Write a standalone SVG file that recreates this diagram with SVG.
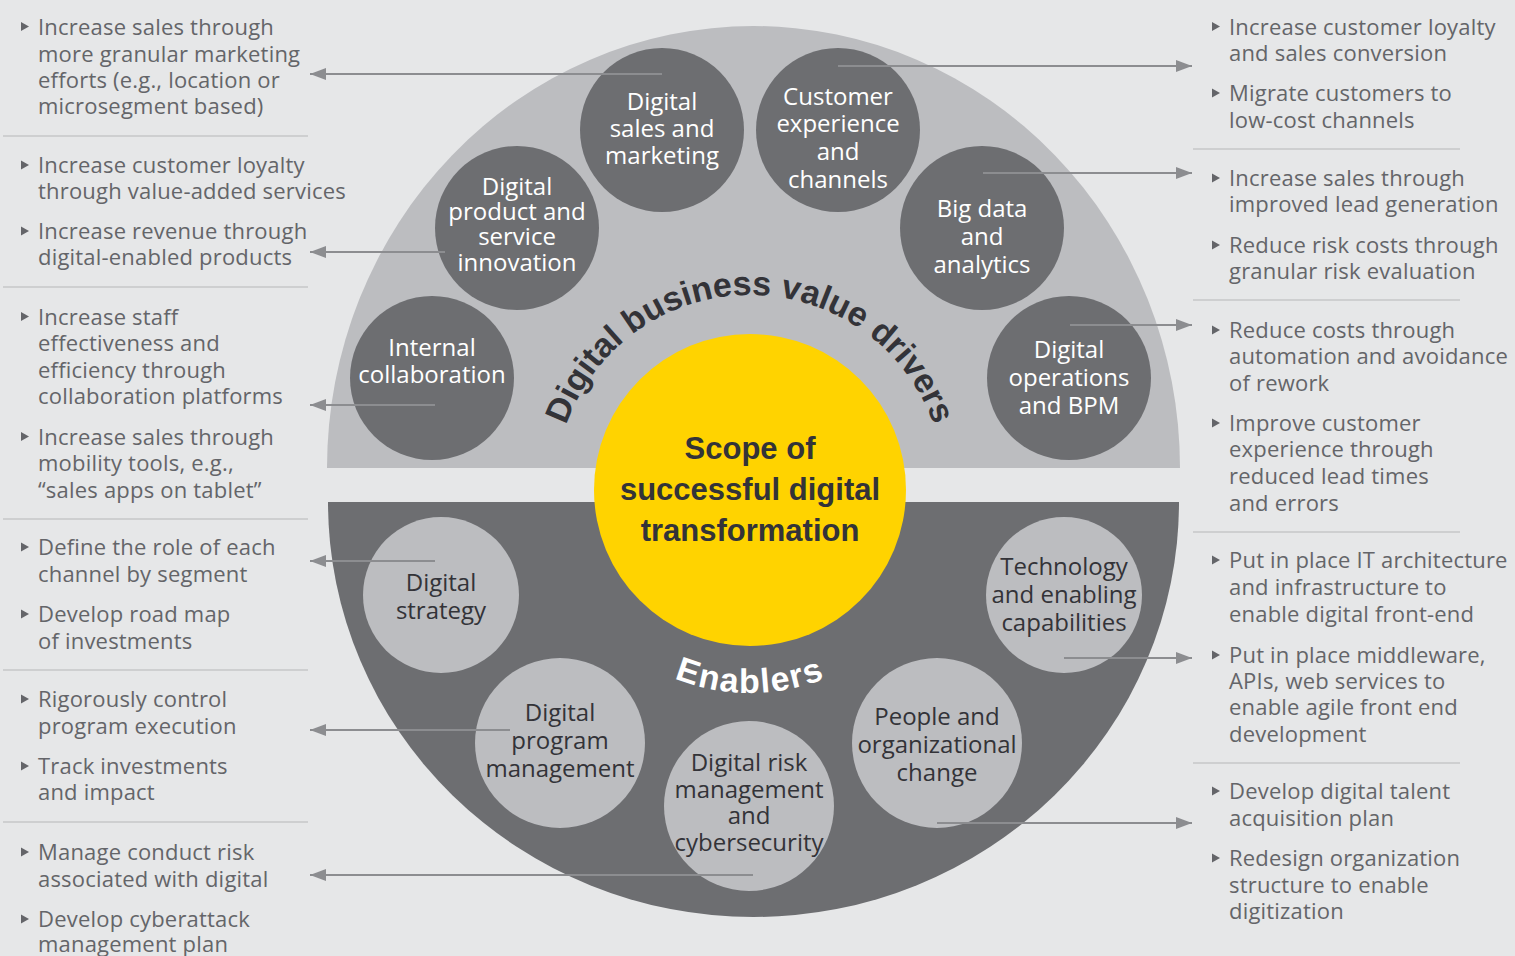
<svg xmlns="http://www.w3.org/2000/svg" xmlns:xlink="http://www.w3.org/1999/xlink" width="1515" height="956" viewBox="0 0 1515 956">
<style>
.side{font-family:"Open Sans","Liberation Sans",sans-serif;font-size:22px;fill:#646569;letter-spacing:0.2px}
.ct{font-family:"Open Sans","Liberation Sans",sans-serif;font-size:24px;text-anchor:middle}
.w{fill:#ffffff}
.d{fill:#333338}
.dk{fill:#6d6e71}
.lt{fill:#bcbdc0}
.sep{stroke:#c6c7c9;stroke-width:1.5}
.con{stroke:#8c8d90;stroke-width:2;fill:none}
.bul{fill:#646569}
.core{font-family:"Liberation Sans",Arial,sans-serif;font-weight:bold;font-size:31px;fill:#333338;text-anchor:middle}
.arc{font-family:"Liberation Sans",Arial,sans-serif;font-weight:bold;font-size:34px}
</style>
<defs>
<path id="bl" d="M0,-4.5 L8,0 L0,4.5Z"/>
<marker id="ah" markerWidth="16" markerHeight="12" refX="16" refY="6" orient="auto" markerUnits="userSpaceOnUse">
<path d="M0,0 L16,6 L0,12Z" fill="#8c8d90"/>
</marker>
<path id="arcTop" d="M555,490 A195,195 0 0 1 945,490"/>
<path id="arcBot" d="M547,490 A203,203 0 0 0 953,490"/>
</defs>
<rect width="1515" height="956" fill="#e6e7e8"/>

<g id="halves">
<path d="M327,468 A426.5,442 0 0 1 1180,468 Z" fill="#bcbdc0"/>
<path d="M328,502 L1179,502 A425.5,415 0 0 1 328,502 Z" fill="#6d6e71"/>
</g>

<g id="core">
<circle cx="750" cy="490" r="156" fill="#ffd300"/>
<text class="core" x="750" y="459">Scope of</text>
<text class="core" x="750" y="500">successful digital</text>
<text class="core" x="750" y="541">transformation</text>
</g>

<g id="label-drivers">
<text class="arc" fill="#333338"><textPath href="#arcTop" startOffset="50%" text-anchor="middle">Digital business value drivers</textPath></text>
</g>
<g id="label-enablers">
<text class="arc" fill="#ffffff" font-size="38" letter-spacing="1.5"><textPath href="#arcBot" startOffset="50%" text-anchor="middle">Enablers</textPath></text>
</g>

<g id="n-sales"><circle class="dk" cx="662" cy="130" r="82"/><text class="ct w"><tspan x="662" y="110">Digital</tspan><tspan x="662" y="137">sales and</tspan><tspan x="662" y="164">marketing</tspan></text></g>
<g id="n-cx"><circle class="dk" cx="838" cy="130" r="82"/><text class="ct w"><tspan x="838" y="105">Customer</tspan><tspan x="838" y="132">experience</tspan><tspan x="838" y="160">and</tspan><tspan x="838" y="188">channels</tspan></text></g>
<g id="n-product"><circle class="dk" cx="517" cy="228" r="82"/><text class="ct w"><tspan x="517" y="195">Digital</tspan><tspan x="517" y="220">product and</tspan><tspan x="517" y="245">service</tspan><tspan x="517" y="271">innovation</tspan></text></g>
<g id="n-bigdata"><circle class="dk" cx="982" cy="228" r="82"/><text class="ct w"><tspan x="982" y="217">Big data</tspan><tspan x="982" y="245">and</tspan><tspan x="982" y="273">analytics</tspan></text></g>
<g id="n-internal"><circle class="dk" cx="432" cy="378" r="82"/><text class="ct w"><tspan x="432" y="356">Internal</tspan><tspan x="432" y="383">collaboration</tspan></text></g>
<g id="n-ops"><circle class="dk" cx="1069" cy="378" r="82"/><text class="ct w"><tspan x="1069" y="358">Digital</tspan><tspan x="1069" y="386">operations</tspan><tspan x="1069" y="414">and BPM</tspan></text></g>

<g id="n-strategy"><circle class="lt" cx="441" cy="595" r="78"/><text class="ct d"><tspan x="441" y="591">Digital</tspan><tspan x="441" y="619">strategy</tspan></text></g>
<g id="n-tech"><circle class="lt" cx="1064" cy="595" r="78"/><text class="ct d"><tspan x="1064" y="575">Technology</tspan><tspan x="1064" y="603">and enabling</tspan><tspan x="1064" y="631">capabilities</tspan></text></g>
<g id="n-program"><circle class="lt" cx="560" cy="743" r="85"/><text class="ct d"><tspan x="560" y="721">Digital</tspan><tspan x="560" y="749">program</tspan><tspan x="560" y="777">management</tspan></text></g>
<g id="n-people"><circle class="lt" cx="937" cy="743" r="85"/><text class="ct d"><tspan x="937" y="725">People and</tspan><tspan x="937" y="753">organizational</tspan><tspan x="937" y="781">change</tspan></text></g>
<g id="n-risk"><circle class="lt" cx="749" cy="806" r="85"/><text class="ct d" font-size="21"><tspan x="749" y="771">Digital risk</tspan><tspan x="749" y="798">management</tspan><tspan x="749" y="824">and</tspan><tspan x="749" y="851">cybersecurity</tspan></text></g>

<g id="connectors">
<line class="con" x1="662" y1="74" x2="310" y2="74" marker-end="url(#ah)"/>
<line class="con" x1="445" y1="252" x2="310" y2="252" marker-end="url(#ah)"/>
<line class="con" x1="435" y1="405" x2="310" y2="405" marker-end="url(#ah)"/>
<line class="con" x1="435" y1="561" x2="310" y2="561" marker-end="url(#ah)"/>
<line class="con" x1="510" y1="730" x2="310" y2="730" marker-end="url(#ah)"/>
<line class="con" x1="753" y1="875" x2="310" y2="875" marker-end="url(#ah)"/>
<line class="con" x1="838" y1="66" x2="1192" y2="66" marker-end="url(#ah)"/>
<line class="con" x1="983" y1="173" x2="1192" y2="173" marker-end="url(#ah)"/>
<line class="con" x1="1070" y1="325" x2="1192" y2="325" marker-end="url(#ah)"/>
<line class="con" x1="1064" y1="658" x2="1192" y2="658" marker-end="url(#ah)"/>
<line class="con" x1="937" y1="823" x2="1192" y2="823" marker-end="url(#ah)"/>
</g>

<g id="separators">
<line class="sep" x1="3" y1="136" x2="308" y2="136"/>
<line class="sep" x1="3" y1="287" x2="308" y2="287"/>
<line class="sep" x1="3" y1="519" x2="308" y2="519"/>
<line class="sep" x1="3" y1="670" x2="308" y2="670"/>
<line class="sep" x1="3" y1="822" x2="308" y2="822"/>
<line class="sep" x1="1193" y1="149" x2="1460" y2="149"/>
<line class="sep" x1="1193" y1="300" x2="1460" y2="300"/>
<line class="sep" x1="1193" y1="532" x2="1460" y2="532"/>
<line class="sep" x1="1193" y1="763" x2="1460" y2="763"/>
</g>

<g id="left-notes">
<use href="#bl" class="bul" x="21" y="26.5"/><use href="#bl" class="bul" x="21" y="165"/><use href="#bl" class="bul" x="21" y="231"/>
<use href="#bl" class="bul" x="21" y="316.5"/><use href="#bl" class="bul" x="21" y="436.5"/>
<use href="#bl" class="bul" x="21" y="547"/><use href="#bl" class="bul" x="21" y="614"/>
<use href="#bl" class="bul" x="21" y="699"/><use href="#bl" class="bul" x="21" y="766"/>
<use href="#bl" class="bul" x="21" y="852"/><use href="#bl" class="bul" x="21" y="919"/>
<text class="side"><tspan x="38" y="34.5">Increase sales through</tspan><tspan x="38" y="61.5">more granular marketing</tspan><tspan x="38" y="88">efforts (e.g., location or</tspan><tspan x="38" y="114">microsegment based)</tspan></text>
<text class="side"><tspan x="38" y="173">Increase customer loyalty</tspan><tspan x="38" y="199">through value-added services</tspan></text>
<text class="side"><tspan x="38" y="239">Increase revenue through</tspan><tspan x="38" y="265">digital-enabled products</tspan></text>
<text class="side"><tspan x="38" y="324.5">Increase staff</tspan><tspan x="38" y="351">effectiveness and</tspan><tspan x="38" y="377.5">efficiency through</tspan><tspan x="38" y="404">collaboration platforms</tspan></text>
<text class="side"><tspan x="38" y="444.5">Increase sales through</tspan><tspan x="38" y="471">mobility tools, e.g.,</tspan><tspan x="38" y="497.5">“sales apps on tablet”</tspan></text>
<text class="side"><tspan x="38" y="555">Define the role of each</tspan><tspan x="38" y="582">channel by segment</tspan></text>
<text class="side"><tspan x="38" y="622">Develop road map</tspan><tspan x="38" y="649">of investments</tspan></text>
<text class="side"><tspan x="38" y="707">Rigorously control</tspan><tspan x="38" y="734">program execution</tspan></text>
<text class="side"><tspan x="38" y="774">Track investments</tspan><tspan x="38" y="800">and impact</tspan></text>
<text class="side"><tspan x="38" y="860">Manage conduct risk</tspan><tspan x="38" y="887">associated with digital</tspan></text>
<text class="side"><tspan x="38" y="927">Develop cyberattack</tspan><tspan x="38" y="952">management plan</tspan></text>
</g>

<g id="right-notes">
<use href="#bl" class="bul" x="1212" y="26.5"/><use href="#bl" class="bul" x="1212" y="93"/>
<use href="#bl" class="bul" x="1212" y="178"/><use href="#bl" class="bul" x="1212" y="245"/>
<use href="#bl" class="bul" x="1212" y="330"/><use href="#bl" class="bul" x="1212" y="423"/>
<use href="#bl" class="bul" x="1212" y="560"/><use href="#bl" class="bul" x="1212" y="655"/>
<use href="#bl" class="bul" x="1212" y="791"/><use href="#bl" class="bul" x="1212" y="858"/>
<text class="side"><tspan x="1229" y="34.5">Increase customer loyalty</tspan><tspan x="1229" y="61">and sales conversion</tspan></text>
<text class="side"><tspan x="1229" y="101">Migrate customers to</tspan><tspan x="1229" y="128">low-cost channels</tspan></text>
<text class="side"><tspan x="1229" y="186">Increase sales through</tspan><tspan x="1229" y="212">improved lead generation</tspan></text>
<text class="side"><tspan x="1229" y="253">Reduce risk costs through</tspan><tspan x="1229" y="279">granular risk evaluation</tspan></text>
<text class="side"><tspan x="1229" y="338">Reduce costs through</tspan><tspan x="1229" y="364">automation and avoidance</tspan><tspan x="1229" y="391">of rework</tspan></text>
<text class="side"><tspan x="1229" y="431">Improve customer</tspan><tspan x="1229" y="457">experience through</tspan><tspan x="1229" y="484">reduced lead times</tspan><tspan x="1229" y="511">and errors</tspan></text>
<text class="side"><tspan x="1229" y="568">Put in place IT architecture</tspan><tspan x="1229" y="595">and infrastructure to</tspan><tspan x="1229" y="622">enable digital front-end</tspan></text>
<text class="side"><tspan x="1229" y="663">Put in place middleware,</tspan><tspan x="1229" y="689">APIs, web services to</tspan><tspan x="1229" y="715">enable agile front end</tspan><tspan x="1229" y="742">development</tspan></text>
<text class="side"><tspan x="1229" y="799">Develop digital talent</tspan><tspan x="1229" y="826">acquisition plan</tspan></text>
<text class="side"><tspan x="1229" y="866">Redesign organization</tspan><tspan x="1229" y="893">structure to enable</tspan><tspan x="1229" y="919">digitization</tspan></text>
</g>
</svg>
